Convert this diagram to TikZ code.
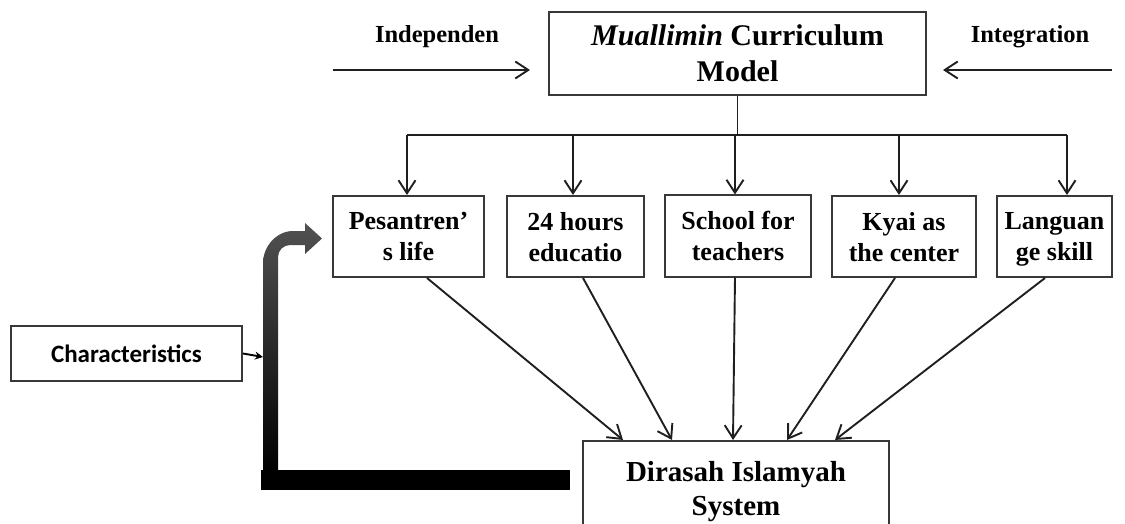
\documentclass[tikz,border=0pt]{standalone}
\usepackage{fontspec}
\setmainfont{Liberation Serif}
\newfontfamily\calib{Carlito}
\usetikzlibrary{arrows.meta}
\begin{document}
\begin{tikzpicture}[x=1pt,y=-1pt,
  box/.style={draw=black!78, line width=2pt, align=center, inner sep=0pt,
    font=\bfseries\fontsize{26}{31}\selectfont},
  midbox/.style={box, minimum height=81pt, text depth=0pt},
  conn/.style={line width=1.9pt, draw=black!88},
  arr/.style={conn, -{Straight Barb[length=13pt,width=17pt]}},
  sidelabel/.style={font=\bfseries\fontsize{24.5}{28}\selectfont, inner sep=0pt}
]
\useasboundingbox (0,0) rectangle (1125,524);

% main model box
\node[box, minimum width=377pt, minimum height=83pt,
  font=\bfseries\fontsize{30}{36}\selectfont] (model) at (737.5,53.5)
  {\textit{Muallimin} Curriculum\\Model};

% side inputs
\node[sidelabel] (indep) at (437,37) {Independen};
\node[sidelabel] (integ) at (1030,37) {Integration};
\coordinate (inL) at (333,70);
\coordinate (inR) at (1112,70);
\draw[arr, shorten >=18pt] (inL) -- (inL -| model.west);
\draw[arr, shorten >=16pt] (inR) -- (inR -| model.east);

% five components
\node[midbox, minimum width=151pt] (b1) at (408.5,236.5) {Pesantren’\\s life};
\node[midbox, minimum width=137pt] (b2) at (575.5,236.5) {24 hours\\educatio};
\node[midbox, minimum width=146pt] (b3) at (738,236) {School for\\teachers};
\node[midbox, minimum width=144pt] (b4) at (904,236.5) {Kyai as\\the center};
\node[midbox, minimum width=115pt] (b5) at (1054.5,236.5) {Languan\\ge skill};

% distribution bus
\coordinate (s1) at (407,135);
\coordinate (s2) at (573,135);
\coordinate (s3) at (735,135);
\coordinate (s4) at (899,135);
\coordinate (s5) at (1067,135);
\draw[conn] (model.south) -- (model.south |- s1);
\draw[conn] (s1) -- (s5);
\draw[arr] (s1) -- (s1 |- b1.north);
\draw[arr] (s2) -- (s2 |- b2.north);
\draw[arr] (s3) -- (s3 |- b3.north);
\draw[arr] (s4) -- (s4 |- b4.north);
\draw[arr] (s5) -- (s5 |- b5.north);

% resulting system (runs off the lower edge)
\node[box, anchor=north, minimum width=306pt, inner ysep=20pt,
  font=\bfseries\fontsize{29}{34}\selectfont] (sys) at (736,440)
  {Dirasah Islamyah\\System};

\draw[arr] ([xshift=18.5pt]b1.south) -- ([xshift=-113pt]sys.north);
\draw[arr] ([xshift=7.5pt]b2.south) -- ([xshift=-64pt]sys.north);
\draw[arr] ([xshift=-3pt]b3.south) -- ([xshift=-3pt]sys.north);
\draw[arr] ([xshift=-9pt]b4.south) -- ([xshift=51pt]sys.north);
\draw[arr] ([xshift=-9.5pt]b5.south) -- ([xshift=99pt]sys.north);

% characteristics feedback
\node[box, font=\calib\bfseries\fontsize{25}{30}\selectfont,
  minimum width=231pt, minimum height=55pt] (chr) at (126.5,353.5) {Characteristics};
\coordinate (barhit) at (263,357);

\fill[black] (261,470) rectangle (570,490);
\shade[top color=black!68, middle color=black, bottom color=black]
  (263,472) -- (263,263) .. controls (263,246.5) and (276.5,231) .. (293,231)
  -- (305,231) -- (305,223) -- (322,238.5) -- (305,254) -- (305,245)
  -- (290,245) .. controls (283.4,245) and (278,250.4) .. (278,257)
  -- (278,472) -- cycle;

\draw[line width=1.9pt, -{Stealth[length=8pt,width=8pt]}] (chr.east) -- (barhit);
\end{tikzpicture}
\end{document}
